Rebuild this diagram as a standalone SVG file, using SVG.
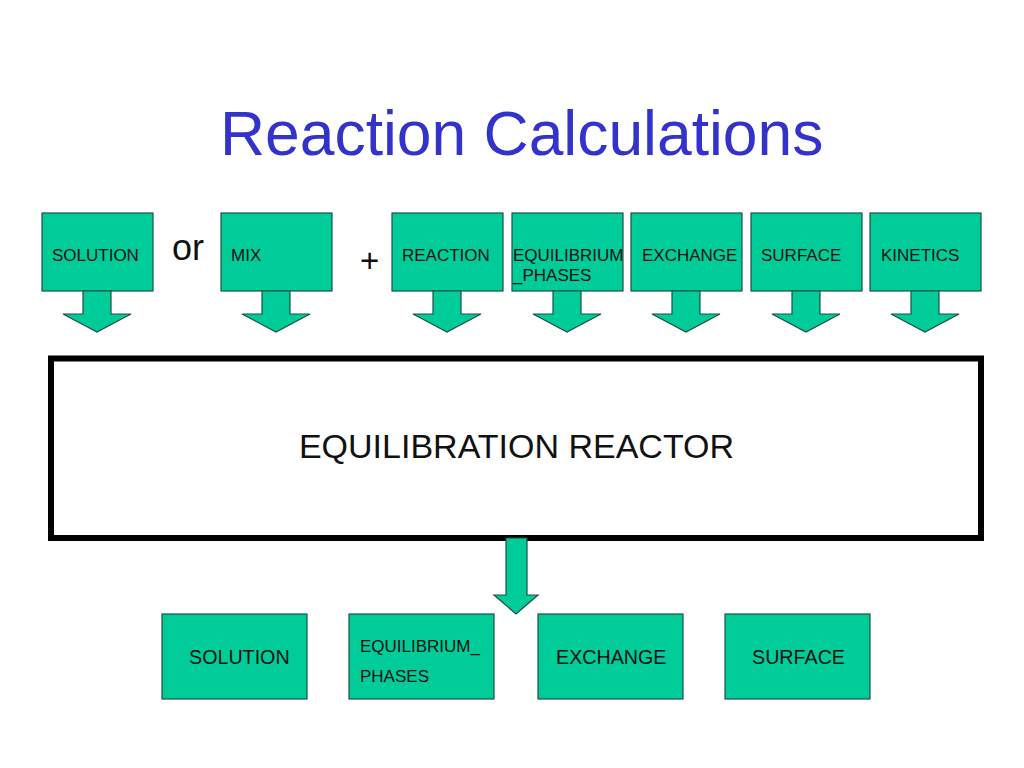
<svg xmlns="http://www.w3.org/2000/svg" width="1024" height="768" viewBox="0 0 1024 768">
<style>
text{font-family:"Liberation Sans",Arial,sans-serif;fill:#111}
.g{fill:#00CC99;stroke:#1F4F44;stroke-width:1.2}
.t{font-size:17px}
.b{font-size:19.7px}
.s{font-size:17px}
</style>
<rect width="1024" height="768" fill="#fff"/>
<text x="220" y="155" style="font-size:62.4px;fill:#3333CC">Reaction Calculations</text>
<text x="172" y="260" style="font-size:36px">or</text>
<text x="360" y="272" style="font-size:33px">+</text>

<g id="in-solution"><rect class="g" x="42" y="213" width="111" height="78"/><polygon class="g" points="83,291 111,291 111,314 131,314 97,332 63,314 83,314"/><text class="t" x="52" y="261">SOLUTION</text></g>
<g id="in-mix"><rect class="g" x="221" y="213" width="111" height="78"/><polygon class="g" points="262,291 290,291 290,314 310,314 276,332 242,314 262,314"/><text class="t" x="231" y="261">MIX</text></g>
<g id="in-reaction"><rect class="g" x="392" y="213" width="111" height="78"/><polygon class="g" points="433,291 461,291 461,314 481,314 447,332 413,314 433,314"/><text class="t" x="402" y="261">REACTION</text></g>
<g id="in-equilibrium"><rect class="g" x="512" y="213" width="111" height="78"/><polygon class="g" points="553,291 581,291 581,314 601,314 567,332 533,314 553,314"/><text class="t" x="513" y="261">EQUILIBRIUM</text><text class="t" x="513" y="281">_PHASES</text></g>
<g id="in-exchange"><rect class="g" x="631" y="213" width="111" height="78"/><polygon class="g" points="672,291 700,291 700,314 720,314 686,332 652,314 672,314"/><text class="t" x="642" y="261">EXCHANGE</text></g>
<g id="in-surface"><rect class="g" x="751" y="213" width="111" height="78"/><polygon class="g" points="792,291 820,291 820,314 840,314 806,332 772,314 792,314"/><text class="t" x="761" y="261">SURFACE</text></g>
<g id="in-kinetics"><rect class="g" x="870" y="213" width="111" height="78"/><polygon class="g" points="911,291 939,291 939,314 959,314 925,332 891,314 911,314"/><text class="t" x="881" y="261">KINETICS</text></g>

<g id="reactor"><rect x="51" y="358.5" width="930" height="179.5" fill="#fff" stroke="#000" stroke-width="6"/><text x="516.5" y="458" text-anchor="middle" style="font-size:34px">EQUILIBRATION REACTOR</text></g>

<g id="connectors"><polygon class="g" points="506,538 527,538 527,595 538,595 516,614 494,595 506,595"/></g>

<g id="out-solution"><rect class="g" x="162" y="614" width="145" height="85"/><text class="b" x="189" y="664">SOLUTION</text></g>
<g id="out-equilibrium"><rect class="g" x="349" y="614" width="145" height="85"/><text class="s" x="360" y="652">EQUILIBRIUM_</text><text class="s" x="360" y="682">PHASES</text></g>
<g id="out-exchange"><rect class="g" x="538" y="614" width="145" height="85"/><text class="b" x="556" y="664">EXCHANGE</text></g>
<g id="out-surface"><rect class="g" x="725" y="614" width="145" height="85"/><text class="b" x="752" y="664">SURFACE</text></g>
</svg>
